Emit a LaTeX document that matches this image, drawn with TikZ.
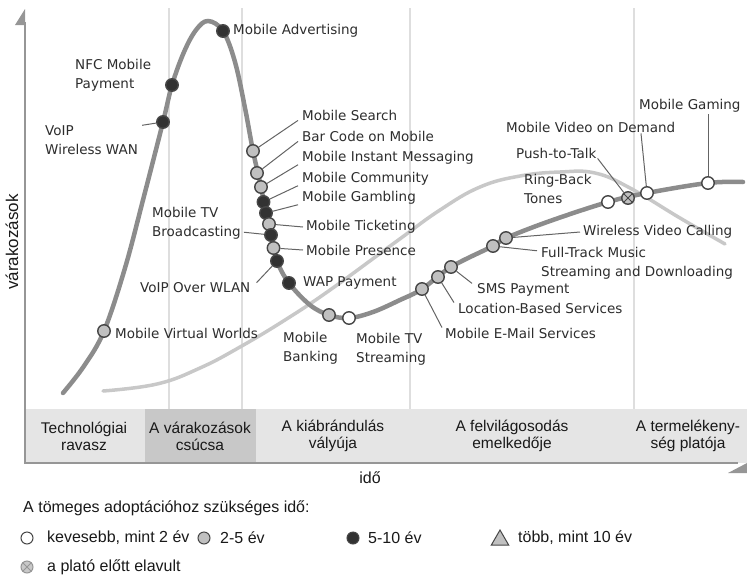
\documentclass[tikz,border=0pt]{standalone}
\usepackage{fontspec}
\setmainfont{Liberation Sans}
\newfontfamily\labelfont{DejaVu Sans}
\usetikzlibrary{shapes.geometric}

\begin{document}
\begin{tikzpicture}[x=1pt,y=-1pt,
    lbl/.style={font=\labelfont\fontsize{13.5}{19}\selectfont, text=labelgray, inner sep=0pt, anchor=west, align=left},
    phase/.style={font=\fontsize{15.5}{17}\selectfont, text=phasetext, align=center, inner sep=0pt},
    legend/.style={font=\fontsize{16}{19}\selectfont, text=phasetext, inner sep=0pt, anchor=west},
    dot/.style={circle, draw=dotline, line width=1.4pt, minimum size=12.5pt, inner sep=0pt},
    whitedot/.style={dot, fill=white},
    graydot/.style={dot, fill=dotfill},
    darkdot/.style={dot, fill=dotdark},
    legdot/.style={line width=1pt, minimum size=12pt},
    leader/.style={draw=leadergray, line width=1pt},
]

    % Define colors
    \definecolor{gridgray}{RGB}{222,222,222}
    \definecolor{axisgray}{RGB}{150,150,150}
    \definecolor{hypegray}{RGB}{140,140,140}
    \definecolor{adoptgray}{RGB}{200,200,200}
    \definecolor{bandgray}{RGB}{229,229,229}
    \definecolor{peakgray}{RGB}{200,200,200}
    \definecolor{dotfill}{RGB}{192,192,192}
    \definecolor{dotdark}{RGB}{50,50,50}
    \definecolor{dotline}{RGB}{70,70,70}
    \definecolor{leadergray}{RGB}{100,100,100}
    \definecolor{labelgray}{RGB}{45,45,45}
    \definecolor{phasetext}{RGB}{25,25,25}

    \useasboundingbox (0,0) rectangle (747,579);

    % Grid and axes
    \foreach \gx in {169,242,410,634}
        \draw[gridgray, line width=1.2pt] (\gx,8) -- (\gx,409);

    \fill[bandgray] (25,409) rectangle (747,463);
    \fill[peakgray] (145,409) rectangle (256,463);
    \draw[axisgray, line width=2pt] (25,22) -- (25,463) -- (738,463);
    \fill[axisgray] (15,25) -- (25,9) -- (25,25) -- cycle;
    \fill[axisgray] (728,473) -- (747,463) -- (747,473) -- cycle;

    \node[rotate=90, font=\fontsize{17}{17}\selectfont, text=phasetext] (expect) at (12,242) {várakozások};
    \node[legend, anchor=center] (time) at (370,478) {idő};

    \node[phase] (trigger) at (84,436) {Technológiai\\ravasz};
    \node[phase] (peak) at (200,436) {A várakozások\\csúcsa};
    \node[phase] (trough) at (333,436) {A kiábrándulás\\vályúja};
    \node[phase] (slope) at (512,436) {A felvilágosodás\\emelkedője};
    \node[phase] (plateau) at (688,436) {A termelékeny-\\ség platója};

    %-------------
    % Curves
    \draw[adoptgray, line width=3.5pt, line cap=round] plot[smooth, tension=0.7] coordinates {(103,391) (157,384) (200,368) (240,347) (285,320) (330,290) (397,241) (440,210) (480,187) (520,176) (560,172) (595,173) (630,188) (680,218) (725,244)};
    \draw[hypegray, line width=4.5pt, line cap=round] plot[smooth, tension=0.6] coordinates {(63,393) (84,366) (104,331) (125,268) (143,200) (163,122) (172,85) (184,52) (196,30) (208,21) (223,31) (235,62) (245,108) (253,151) (261,187) (266,213) (271,235) (277,261) (289,283) (310,305) (329,315) (349,318) (373,312) (400,300) (422,289) (451,267) (493,246) (506,238) (550,221) (608,202) (647,193) (708,183) (743,182)};

    %-------------
    % Rising side
    \node[graydot] (dmvw) at (104,331) {};
    \node[lbl] (mvw) at (115,333) {Mobile Virtual Worlds};

    \node[darkdot] (dvoipww) at (163,122) {};
    \node[lbl] (voipww) at (45,140) {VoIP\\Wireless WAN};
    \draw[leader] (dvoipww) -- ([xshift=4pt]voipww.north east);

    \node[darkdot] (dnfc) at (172,85) {};
    \node[lbl] (nfc) at (75,75) {NFC Mobile\\Payment};

    \node[darkdot] (dmadv) at (223,31) {};
    \node[lbl] (madv) at (233,31) {Mobile Advertising};

    %-------------
    % Falling side
    \node[graydot] (dmsearch) at (253,151) {};
    \node[graydot] (dbarcode) at (257,173) {};
    \node[graydot] (dmim) at (261,187) {};
    \node[darkdot] (dmcomm) at (263.5,202) {};
    \node[darkdot] (dmgamb) at (266,213) {};
    \node[graydot] (dmtick) at (269,224) {};
    \node[darkdot] (dmtvb) at (271,235) {};
    \node[graydot] (dmpres) at (273.5,248) {};
    \node[darkdot] (dvoipwl) at (277,261) {};
    \node[darkdot] (dwap) at (289,283) {};

    \node[lbl] (msearch) at (302,115) {Mobile Search};
    \node[lbl] (barcode) at (302,136) {Bar Code on Mobile};
    \node[lbl] (mim) at (302,158) {Mobile Instant Messaging};
    \node[lbl] (mcomm) at (302,179) {Mobile Community};
    \node[lbl] (mgamb) at (302,198) {Mobile Gambling};
    \node[lbl] (mtick) at (306,227) {Mobile Ticketing};
    \node[lbl] (mpres) at (306,250) {Mobile Presence};
    \node[lbl] (wap) at (303,283) {WAP Payment};
    \node[lbl] (mtvb) at (152,223) {Mobile TV\\Broadcasting};
    \node[lbl] (voipwl) at (140,288) {VoIP Over WLAN};

    \foreach \d/\l in {dmsearch/msearch, dbarcode/barcode, dmim/mim, dmcomm/mcomm, dmgamb/mgamb}
        \draw[leader] (\d) -- ([xshift=-4pt]\l.south west);
    \draw[leader] (dmtick) -- ([xshift=-3pt]mtick.west);
    \draw[leader] (dmpres) -- ([xshift=-3pt]mpres.west);
    \draw[leader] (dmtvb) -- ([xshift=3pt,yshift=7pt]mtvb.south east);
    \draw[leader] (dvoipwl) -- ([xshift=6pt]voipwl.north east);

    %-------------
    % Trough
    \node[graydot] (dmbank) at (329,315) {};
    \node[whitedot] (dmtvs) at (349,318) {};
    \node[lbl] (mbank) at (283,348) {Mobile\\Banking};
    \node[lbl] (mtvs) at (356,349) {Mobile TV\\Streaming};

    %-------------
    % Slope
    \node[graydot] (dmemail) at (422,289) {};
    \node[graydot] (dlbs) at (438,277) {};
    \node[graydot] (dsms) at (451,267) {};
    \node[graydot] (dftm) at (493,246) {};
    \node[graydot] (dwvc) at (506,238) {};

    \node[lbl] (memail) at (445,333) {Mobile E-Mail Services};
    \node[lbl] (lbs) at (458,308) {Location-Based Services};
    \node[lbl] (sms) at (477,290) {SMS Payment};
    \node[lbl] (ftm) at (541,263) {Full-Track Music\\Streaming and Downloading};
    \node[lbl] (wvc) at (583,232) {Wireless Video Calling};

    \draw[leader] (dmemail) -- ([xshift=-3pt]memail.north west);
    \draw[leader] (dlbs) -- ([xshift=-4pt]lbs.north west);
    \draw[leader] (dsms) -- ([xshift=-5pt]sms.north west);
    \draw[leader] (dftm) -- ([xshift=-4pt,yshift=-4pt]ftm.north west);
    \draw[leader] (dwvc) -- ([xshift=-3pt]wvc.west);

    %-------------
    % Plateau
    \node[whitedot] (drbt) at (608,202) {};
    \node[graydot] (dptt) at (628,198) {};
    \draw[dotline, line width=1pt] (dptt.45) -- (dptt.225) (dptt.135) -- (dptt.315);
    \node[whitedot] (dmvod) at (647,193) {};
    \node[whitedot] (dmgame) at (708,183) {};

    \node[lbl] (rbt) at (524,189) {Ring-Back\\Tones};
    \node[lbl] (ptt) at (516,153) {Push-to-Talk};
    \node[lbl] (mvod) at (506,127) {Mobile Video on Demand};
    \node[lbl] (mgame) at (639,106) {Mobile Gaming};

    \draw[leader] (dptt) -- ([xshift=1pt]ptt.south east);
    \draw[leader] (dmvod) -- ([xshift=-6pt,yshift=-1pt]dmvod |- mvod.south);
    \draw[leader] (dmgame) -- ([yshift=-1pt]dmgame |- mgame.south);

    %-------------
    % Legend
    \node[legend] (legtitle) at (23,508) {A tömeges adoptációhoz szükséges idő:};

    \node[whitedot, legdot] (lwhite) at (27,538) {};
    \node[legend] (lwhitet) at (47,538) {kevesebb, mint 2 év};
    \node[graydot, legdot] (lgray) at (204,538) {};
    \node[legend] (lgrayt) at (220,538) {2-5 év};
    \node[darkdot, legdot] (ldark) at (353,538) {};
    \node[legend] (ldarkt) at (368,538) {5-10 év};
    \node[regular polygon, regular polygon sides=3, draw=dotline, fill=dotfill, line width=1pt, minimum size=20pt, inner sep=0pt] (ltri) at (500,540) {};
    \node[legend] (ltrit) at (518,538) {több, mint 10 év};

    \node[dot, legdot, draw=axisgray, fill=adoptgray] (lobs) at (27,567) {};
    \draw[axisgray, line width=0.8pt] (lobs.45) -- (lobs.225) (lobs.135) -- (lobs.315);
    \node[legend] (lobst) at (47,567) {a plató előtt elavult};

\end{tikzpicture}
\end{document}
